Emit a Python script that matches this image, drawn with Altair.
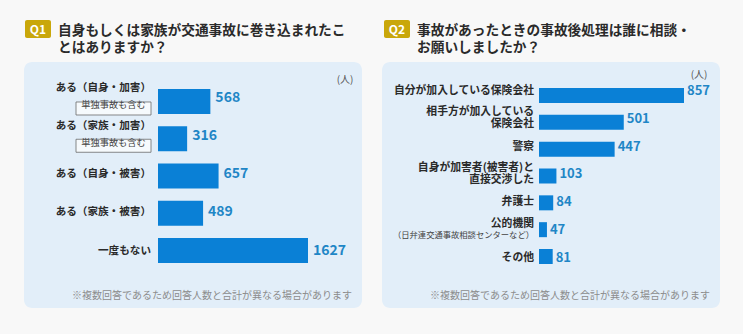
import altair as alt
import pandas as pd

# ---------------- data ----------------
q1_categories = ["ある（自身・加害）", "ある（家族・加害）", "ある（自身・被害）", "ある（家族・被害）", "一度もない"]
q1_notes = ["単独事故も含む", "単独事故も含む", "", "", ""]
q1_values = [568, 316, 657, 489, 1627]

q2_categories = [
    "自分が加入している保険会社",
    "相手方が加入している\n保険会社",
    "警察",
    "自身が加害者(被害者)と\n直接交渉した",
    "弁護士",
    "公的機関",
    "その他",
]
q2_notes = ["", "", "", "", "", "（日弁連交通事故相談センターなど）", ""]
q2_values = [857, 501, 447, 103, 84, 47, 81]

q1_title = ["自身もしくは家族が交通事故に巻き込まれたこ", "とはありますか？"]
q2_title = ["事故があったときの事故後処理は誰に相談・", "お願いしましたか？"]
unit_label = "(人)"
footnote = "※複数回答であるため回答人数と合計が異なる場合があります"

# ---------------- style ----------------
FONT = "Noto Sans CJK JP"
BAR = "#0a80d6"
VAL = "#1f86c6"
PANEL = "#e2eef9"
GOLD = "#c9a70a"
DARK = "#2a2a2a"

q1 = pd.DataFrame({"cat": q1_categories, "note": q1_notes, "val": q1_values})
q2 = pd.DataFrame({"cat": q2_categories, "note": q2_notes, "val": q2_values})
one = pd.DataFrame({"k": [0]})


def y1():
    return alt.Scale(domain=q1_categories, range=[82, 273], paddingInner=0.329,
                     paddingOuter=0.228, align=0.412)


def y2():
    return alt.Scale(domain=q2_categories, range=[82, 277], paddingInner=0.441,
                     paddingOuter=0.354, align=0.316)


def x1():
    return alt.Scale(domain=[0, 1627], range=[158, 308])


def x2():
    return alt.Scale(domain=[0, 857], range=[539, 684])


layers = []

# panels
for px0, px1 in [(24, 362), (382, 720)]:
    layers.append(
        alt.Chart(one).mark_rect(cornerRadius=8, color=PANEL).encode(
            x=alt.value(px0), x2=alt.value(px1), y=alt.value(62), y2=alt.value(308)
        )
    )

# badges and titles
for bx, label, tx, lines in [(25, "Q1", 58, q1_title), (384, "Q2", 417, q2_title)]:
    layers.append(
        alt.Chart(one).mark_rect(cornerRadius=2, color=GOLD).encode(
            x=alt.value(bx), x2=alt.value(bx + 26), y=alt.value(20), y2=alt.value(38)
        )
    )
    layers.append(
        alt.Chart(one).mark_text(text=label, font=FONT, fontSize=12, fontWeight="bold",
                                 color="white", align="center", baseline="middle").encode(
            x=alt.value(bx + 13), y=alt.value(29.5)
        )
    )
    layers.append(
        alt.Chart(one).mark_text(text=lines, font=FONT, fontSize=13.7, fontWeight="bold",
                                 color=DARK, align="left", baseline="middle",
                                 lineHeight=17).encode(
            x=alt.value(tx), y=alt.value(31)
        )
    )

# units and footnotes
for ux, uy, fx in [(345, 80, 352), (699, 75, 710)]:
    layers.append(
        alt.Chart(one).mark_text(text=unit_label, font=FONT, fontSize=10, color="#555555",
                                 align="center", baseline="middle").encode(
            x=alt.value(ux), y=alt.value(uy)
        )
    )
    layers.append(
        alt.Chart(one).mark_text(text=footnote, font=FONT, fontSize=10, color="#8c8c8c",
                                 align="right", baseline="middle").encode(
            x=alt.value(fx), y=alt.value(296)
        )
    )

# ---------- Q1 chart ----------
layers.append(
    alt.Chart(q1).mark_bar(color=BAR).encode(
        x=alt.X("val:Q", scale=x1(), axis=None),
        y=alt.Y("cat:N", scale=y1(),
                axis=alt.Axis(orient="left", offset=-158, labels=False, ticks=False,
                              grid=False, title=None, domainColor="#3a3a3a", domainWidth=1)),
    )
)
layers.append(
    alt.Chart(q1).mark_text(align="left", baseline="middle", dx=5, font=FONT, fontSize=14,
                            fontWeight="bold", color=VAL).encode(
        x=alt.X("val:Q", scale=x1(), axis=None),
        y=alt.Y("cat:N", scale=y1(), axis=None),
        text="val:Q",
    )
)
layers.append(
    alt.Chart(q1).transform_filter("datum.note != ''").mark_text(
        align="right", baseline="middle", dy=-9.5, font=FONT, fontSize=10.6,
        fontWeight="bold", color=DARK).encode(
        x=alt.value(151), y=alt.Y("cat:N", scale=y1(), axis=None), text="cat:N"
    )
)
layers.append(
    alt.Chart(q1).transform_filter("datum.note == ''").mark_text(
        align="right", baseline="middle", font=FONT, fontSize=10.6,
        fontWeight="bold", color=DARK).encode(
        x=alt.value(151), y=alt.Y("cat:N", scale=y1(), axis=None), text="cat:N"
    )
)
layers.append(
    alt.Chart(q1).transform_filter("datum.note != ''").mark_bar(
        height=13, yOffset=7, fill="#f6fafd", stroke="#6a6a6a", strokeWidth=0.8).encode(
        x=alt.value(76), x2=alt.value(151), y=alt.Y("cat:N", scale=y1(), axis=None)
    )
)
layers.append(
    alt.Chart(q1).transform_filter("datum.note != ''").mark_text(
        align="center", baseline="middle", dy=7, font=FONT, fontSize=9.2,
        color="#444444").encode(
        x=alt.value(113.5), y=alt.Y("cat:N", scale=y1(), axis=None), text="note:N"
    )
)

# ---------- Q2 chart ----------
layers.append(
    alt.Chart(q2).mark_bar(color=BAR).encode(
        x=alt.X("val:Q", scale=x2(), axis=None),
        y=alt.Y("cat:N", scale=y2(),
                axis=alt.Axis(orient="left", offset=-539, labels=False, ticks=False,
                              grid=False, title=None, domainColor="#3a3a3a", domainWidth=1)),
    )
)
layers.append(
    alt.Chart(q2).mark_text(align="left", baseline="middle", dx=3, font=FONT, fontSize=13,
                            fontWeight="bold", color=VAL).encode(
        x=alt.X("val:Q", scale=x2(), axis=None),
        y=alt.Y("cat:N", scale=y2(), axis=None),
        text="val:Q",
    )
)
# single-line labels
layers.append(
    alt.Chart(q2).transform_filter("datum.note == '' && indexof(datum.cat, '\\n') < 0").mark_text(
        align="right", baseline="middle", font=FONT, fontSize=10.8, fontWeight="bold",
        color=DARK).encode(
        x=alt.value(534), y=alt.Y("cat:N", scale=y2(), axis=None), text="cat:N"
    )
)
# two-line labels
layers.append(
    alt.Chart(q2).transform_filter("indexof(datum.cat, '\\n') >= 0").mark_text(
        align="right", baseline="middle", dy=-6.5, font=FONT, fontSize=10.8, fontWeight="bold",
        color=DARK, lineBreak="\n", lineHeight=12).encode(
        x=alt.value(534), y=alt.Y("cat:N", scale=y2(), axis=None), text="cat:N"
    )
)
layers.append(
    alt.Chart(q2).transform_filter("datum.note != ''").mark_text(
        align="right", baseline="middle", dy=-6, font=FONT, fontSize=10.8, fontWeight="bold",
        color=DARK).encode(
        x=alt.value(534), y=alt.Y("cat:N", scale=y2(), axis=None), text="cat:N"
    )
)
layers.append(
    alt.Chart(q2).transform_filter("datum.note != ''").mark_text(
        align="right", baseline="middle", dy=6, font=FONT, fontSize=8.3,
        color="#444444").encode(
        x=alt.value(534), y=alt.Y("cat:N", scale=y2(), axis=None), text="note:N"
    )
)

chart = alt.layer(*layers).resolve_scale(
    x="independent", y="independent"
).properties(
    width=743, height=334, padding=0,
    autosize=alt.AutoSizeParams(type="none"),
    background="#f8f8f8",
).configure_view(stroke=None)

chart.save("out.html", embed_options={"renderer": "svg", "actions": False})
